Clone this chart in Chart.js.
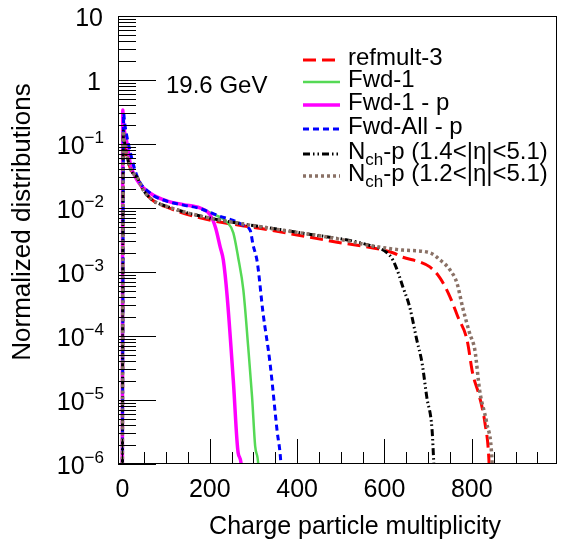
<!DOCTYPE html>
<html>
<head>
<meta charset="utf-8">
<script src="https://cdn.jsdelivr.net/npm/chart.js@4"></script>
<style>
  html, body { margin: 0; padding: 0; background: #fff; }
  #wrap { width: 564px; height: 542px; }
</style>
</head>
<body>
<div id="wrap"><canvas id="chart" width="564" height="542"></canvas></div>
<script>
// values (x = multiplicity, y = normalized)
const refmultX = [0, 2, 4, 18, 34, 48, 71, 103, 178, 331, 482, 619, 642, 681, 704, 727, 750, 768, 789, 802, 818, 830, 839, 841];
const refmultY = [5e-7, 0.15, 0.11, 0.042, 0.03, 0.019, 0.013, 0.0102, 0.0070, 0.0046, 0.0030, 0.0020, 0.0017, 0.00143, 0.0012, 8.1e-4, 4.1e-4, 2.0e-4, 8.7e-5, 2.6e-5, 1.1e-5, 4.4e-6, 1.2e-6, 5e-7];

const fwd1X = [0, 1, 2, 11, 18, 34, 64, 103, 140, 178, 208, 240, 254, 265, 277, 288, 297, 304, 311, 313];
const fwd1Y = [5e-7, 0.3, 0.22, 0.095, 0.048, 0.027, 0.017, 0.0128, 0.0112, 0.0100, 0.008, 0.006, 0.0041, 0.0017, 5.2e-4, 6.8e-5, 1.1e-5, 1.9e-6, 1e-6, 5e-7];

const fwd1pX = [0, 1, 2, 11, 18, 34, 64, 103, 140, 178, 201, 213, 224, 231, 240, 254, 265, 272, 274];
const fwd1pY = [5e-7, 0.34, 0.24, 0.10, 0.05, 0.027, 0.017, 0.0128, 0.0113, 0.0100, 0.0078, 0.005, 0.00245, 0.00155, 4.1e-4, 2.0e-5, 1.5e-6, 1e-6, 5e-7];

const fwdAllX = [0, 3, 5, 14, 34, 64, 103, 140, 178, 224, 254, 281, 293, 299, 309, 322, 338, 354, 363, 365];
const fwdAllY = [5e-7, 0.30, 0.22, 0.10, 0.031, 0.017, 0.0127, 0.0111, 0.0098, 0.0074, 0.0064, 0.0052, 0.0044, 0.0027, 0.0014, 2.3e-4, 3.8e-5, 3.4e-6, 1e-6, 5e-7];

const nch14X = [0, 2, 4, 18, 34, 48, 71, 103, 178, 407, 567, 606, 619, 629, 642, 658, 674, 686, 697, 709, 713, 715];
const nch14Y = [5e-7, 0.16, 0.12, 0.042, 0.03, 0.019, 0.013, 0.0105, 0.0075, 0.0041, 0.0026, 0.0020, 0.00155, 0.00108, 5.9e-4, 2.8e-4, 8.7e-5, 3.8e-5, 1.1e-5, 3.4e-6, 1.0e-6, 5e-7];

const nch12X = [0, 2, 4, 18, 34, 48, 71, 103, 178, 331, 482, 567, 642, 704, 727, 750, 766, 779, 795, 807, 818, 834, 846, 848];
const nch12Y = [5e-7, 0.16, 0.12, 0.042, 0.03, 0.019, 0.013, 0.0105, 0.0075, 0.0049, 0.0034, 0.0026, 0.0022, 0.0020, 0.00155, 0.00108, 6.7e-4, 2.8e-4, 1.1e-4, 6.0e-5, 1.4e-5, 4.4e-6, 1.2e-6, 5e-7];

const xTickLabels = [0, 200, 400, 600, 800];
const yDecades = [1, 0, -1, -2, -3, -4, -5, -6];
const energyLabel = '19.6 GeV';

const FONT = "'Liberation Sans', Arial, sans-serif";

function pts(xs, ys) {
  return xs.map((x, i) => ({ x: x, y: ys[i] }));
}

const series = [
  { label: 'refmult-3', x: refmultX, y: refmultY, color: '#ff0000', width: 3, dash: [13, 6], order: 5 },
  { label: 'Fwd-1', x: fwd1X, y: fwd1Y, color: '#55d955', width: 2.5, dash: [], order: 4 },
  { label: 'Fwd-1 - p', x: fwd1pX, y: fwd1pY, color: '#ff00ff', width: 3.5, dash: [], order: 3 },
  { label: 'Fwd-All - p', x: fwdAllX, y: fwdAllY, color: '#0000ff', width: 3, dash: [6, 4], order: 2 },
  { label: ['N', 'ch', '-p (1.4<|η|<5.1)'], x: nch14X, y: nch14Y, color: '#000000', width: 3, dash: [7, 3, 1.5, 3, 1.5, 3], order: 1 },
  { label: ['N', 'ch', '-p (1.2<|η|<5.1)'], x: nch12X, y: nch12Y, color: '#8a7166', width: 3.5, dash: [3, 3], order: 0 },
];

// frame, inner ticks, labels, legend - ROOT look
const rootStyle = {
  id: 'rootStyle',
  afterDraw(chart) {
    const { ctx, chartArea: a, scales: { x, y } } = chart;
    ctx.save();
    ctx.strokeStyle = '#000';
    ctx.lineWidth = 1;
    ctx.strokeRect(a.left + 0.5, a.top + 0.5, a.right - a.left - 1, a.bottom - a.top - 1);

    // x ticks
    ctx.beginPath();
    for (let v = 0; v <= 950; v += 50) {
      const px = Math.round(x.getPixelForValue(v)) + 0.5;
      const len = v % 200 === 0 ? 25 : 12;
      ctx.moveTo(px, a.bottom);
      ctx.lineTo(px, a.bottom - len);
    }
    // y ticks
    for (let e = -6; e <= 1; e++) {
      for (let m = 1; m <= 9; m++) {
        const v = m * Math.pow(10, e);
        if (v > 10.0001) continue;
        const py = Math.round(y.getPixelForValue(v)) + 0.5;
        const len = m === 1 ? 38 : 18;
        ctx.moveTo(a.left, py);
        ctx.lineTo(a.left + len, py);
      }
    }
    ctx.stroke();

    ctx.fillStyle = '#000';
    ctx.textBaseline = 'middle';

    // x labels
    ctx.font = '25px ' + FONT;
    ctx.textAlign = 'center';
    xTickLabels.forEach(v => ctx.fillText(String(v), x.getPixelForValue(v), 490));

    // y labels
    ctx.textAlign = 'right';
    yDecades.forEach(e => {
      const py = y.getPixelForValue(Math.pow(10, e)) + 3;
      if (e === 1) { ctx.font = '25px ' + FONT; ctx.fillText('10', 103, py); return; }
      if (e === 0) { ctx.font = '25px ' + FONT; ctx.fillText('1', 101, py); return; }
      ctx.font = '17px ' + FONT;
      const sup = '\u2212' + (-e);
      const w = ctx.measureText(sup).width;
      ctx.fillText(sup, 104, py - 9);
      ctx.font = '25px ' + FONT;
      ctx.fillText('10', 104 - w, py);
    });

    // axis titles
    ctx.font = '25px ' + FONT;
    ctx.textAlign = 'center';
    ctx.fillText('Charge particle multiplicity', 355, 527);
    ctx.save();
    ctx.translate(23, 222);
    ctx.rotate(-Math.PI / 2);
    ctx.font = '26px ' + FONT;
    ctx.fillText('Normalized distributions', 0, 0);
    ctx.restore();

    // energy label
    ctx.textAlign = 'left';
    ctx.font = '24px ' + FONT;
    ctx.fillText(energyLabel, 166, 86);

    // legend
    const rowY = [57, 79, 102, 126, 151, 173];
    series.forEach((s, i) => {
      const ry = rowY[i];
      ctx.save();
      ctx.strokeStyle = s.color;
      ctx.lineWidth = s.width;
      ctx.setLineDash(s.dash);
      ctx.beginPath();
      ctx.moveTo(303, ry + 3);
      ctx.lineTo(340, ry + 3);
      ctx.stroke();
      ctx.restore();
      ctx.fillStyle = '#000';
      ctx.textAlign = 'left';
      ctx.font = '24px ' + FONT;
      if (typeof s.label === 'string') {
        ctx.fillText(s.label, 348, ry + 1);
      } else {
        let tx = 348;
        ctx.fillText(s.label[0], tx, ry + 1);
        tx += ctx.measureText(s.label[0]).width;
        ctx.font = '17px ' + FONT;
        ctx.fillText(s.label[1], tx, ry + 9);
        tx += ctx.measureText(s.label[1]).width;
        ctx.font = '24px ' + FONT;
        ctx.fillText(s.label[2], tx, ry + 1);
      }
    });
    ctx.restore();
  }
};

new Chart(document.getElementById('chart').getContext('2d'), {
  type: 'scatter',
  data: {
    datasets: series.map(s => ({
      label: Array.isArray(s.label) ? s.label.join('') : s.label,
      data: pts(s.x, s.y),
      showLine: true,
      borderColor: s.color,
      backgroundColor: s.color,
      borderWidth: s.width,
      borderDash: s.dash,
      pointRadius: 0,
      cubicInterpolationMode: 'monotone',
      order: s.order,
    }))
  },
  options: {
    responsive: false,
    animation: false,
    layout: { padding: { left: 118, right: 7, top: 16, bottom: 78 } },
    plugins: { legend: { display: false }, tooltip: { enabled: false } },
    scales: {
      x: { type: 'linear', min: -10, max: 995, display: false },
      y: { type: 'logarithmic', min: 1e-6, max: 10, display: false },
    }
  },
  plugins: [rootStyle]
});
</script>
</body>
</html>
